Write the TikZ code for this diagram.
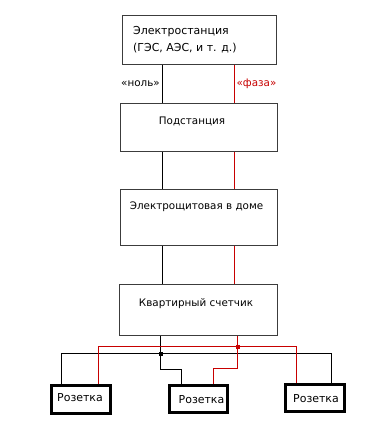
\documentclass[tikz,border=0pt]{standalone}
\usepackage{fontspec}
\setmainfont{DejaVu Sans}
\definecolor{phase}{RGB}{200,0,0}
\definecolor{frame}{RGB}{60,60,60}
\begin{document}
\begin{tikzpicture}[x=1bp,y=-1bp,
  blk/.style={draw=frame,line width=1bp,inner sep=0pt},
  sock/.style={draw=black,line width=3bp,inner sep=0pt},
  txt/.style={inner sep=0pt,font=\fontsize{10.4}{12}\selectfont},
  stxt/.style={inner sep=0pt,font=\fontsize{11}{13}\selectfont},
  zero/.style={draw=black,line width=1bp},
  fase/.style={draw=phase,line width=1bp},
  dotsq/.style={inner sep=0pt,minimum size=4bp}]
\useasboundingbox[fill=white] (0,0) rectangle (377,434);
% blocks
\node[blk,minimum width=154bp,minimum height=49bp] (e) at (199.5,40) {};
\node[txt,anchor=west,align=left,font=\fontsize{11}{17}\selectfont] (et) at (133,39.5) {Электростанция\\(ГЭС, АЭС, и т. д.)};
\node[blk,minimum width=157bp,minimum height=48bp] (p) at (199,127.5) {};
\node[txt] (pt) at (192,121) {Подстанция};
\node[blk,minimum width=157bp,minimum height=56bp] (s) at (199,217.5) {};
\node[txt] (st) at (196.5,207) {Электрощитовая в доме};
\node[blk,minimum width=158bp,minimum height=51bp] (k) at (198.5,310) {};
\node[txt] (kt) at (196,304) {Квартирный счетчик};
% sockets
\node[sock,minimum width=59bp,minimum height=28bp] (r1) at (81,399.5) {};
\node[sock,minimum width=58bp,minimum height=27bp] (r2) at (198.5,399) {};
\node[sock,minimum width=59bp,minimum height=27bp] (r3) at (315,398) {};
\node[stxt] at (80,398) {Розетка};
\node[stxt] at (201.5,400) {Розетка};
\node[stxt] at (316,399) {Розетка};
% labels
\node[txt] (ln) at (140.5,84) {«ноль»};
\node[txt,text=phase] (lf) at (256.5,84) {«фаза»};
% x positions
\coordinate (xn) at (162.5,0);
\coordinate (xf) at (234.5,0);
\draw[zero] (e.south -| xn) -- (p.north -| xn);
\draw[fase] (e.south -| xf) -- (p.north -| xf);
\draw[zero] (p.south -| xn) -- (s.north -| xn);
\draw[fase] (p.south -| xf) -- (s.north -| xf);
\draw[zero] (s.south -| xn) -- (k.north -| xn);
\draw[fase] (s.south -| xf) -- (k.north -| xf);
% distribution
\coordinate (jn) at (160.5,353.5);
\coordinate (jf) at (237.5,346.5);
\draw[zero] (k.south -| jn) -- (jn);
\draw[zero] (r1.north -| 61.5,0) |- (jn) -| (r3.north -| 331.5,0);
\draw[zero] (jn) |- (181.5,369.5) -- (r2.north -| 181.5,0);
\draw[fase] (k.south -| jf) -- (jf);
\draw[fase] (r1.north -| 98.5,0) |- (jf) -| (r3.north -| 296.5,0);
\draw[fase] (jf) |- (213.5,368.5) -- (r2.north -| 213.5,0);
\node[dotsq,fill=black] at (jn) {};
\node[dotsq,fill=phase] at (jf) {};
\end{tikzpicture}
\end{document}
